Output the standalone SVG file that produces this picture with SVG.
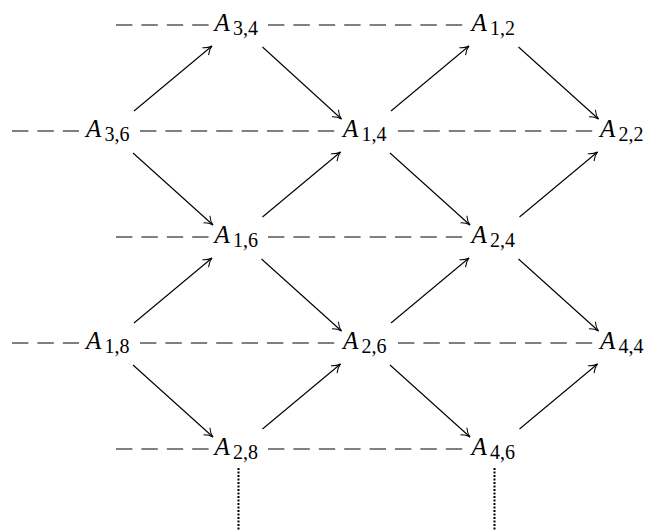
<svg xmlns="http://www.w3.org/2000/svg" width="647" height="531" viewBox="0 0 647 531">
  <style>
    .dash { stroke: #000; stroke-width: 1; stroke-dasharray: 16.4 9; fill: none; }
    .arr { stroke: #000; stroke-width: 1.1; fill: none; marker-end: url(#to); }
    .dot { stroke: #000; stroke-width: 2; stroke-dasharray: 2 1.5; fill: none; }
    text { font-family: "Liberation Serif", "Times New Roman", serif; fill: #000; }
    .big { font-size: 25px; font-style: italic; }
    .sub { font-size: 20px; font-style: normal; }
  </style>
  <defs>
    <marker id="to" markerUnits="userSpaceOnUse" markerWidth="14" markerHeight="14" viewBox="-10 -7 14 14" refX="0" refY="0" orient="auto" overflow="visible">
      <path d="M-8.5,-4.8 C-5.5,-1.8 -2.2,-0.5 0,0 C-2.2,0.5 -5.5,1.8 -8.5,4.8" stroke="#000" stroke-width="1" fill="none"/>
    </marker>
  </defs>

  <!-- dashed rows -->
  <g id="rows">
    <line class="dash" x1="116" y1="25" x2="209" y2="25"/>
    <line class="dash" x1="268" y1="25" x2="463" y2="25"/>
    <line class="dash" x1="12" y1="131" x2="79" y2="131"/>
    <line class="dash" x1="140" y1="131" x2="335" y2="131"/>
    <line class="dash" x1="398" y1="131" x2="593" y2="131"/>
    <line class="dash" x1="116" y1="237" x2="209" y2="237"/>
    <line class="dash" x1="268" y1="237" x2="463" y2="237"/>
    <line class="dash" x1="12" y1="343" x2="79" y2="343"/>
    <line class="dash" x1="140" y1="343" x2="335" y2="343"/>
    <line class="dash" x1="398" y1="343" x2="593" y2="343"/>
    <line class="dash" x1="116" y1="449" x2="209" y2="449"/>
    <line class="dash" x1="268" y1="449" x2="463" y2="449"/>
  </g>

  <!-- arrows between nodes -->
  <g id="connectors">
    <!-- from A3,6 -->
    <line class="arr" x1="134" y1="111" x2="212" y2="46"/>
    <line class="arr" x1="133" y1="153" x2="213" y2="225"/>
    <!-- from A3,4 -->
    <line class="arr" x1="262.5" y1="47" x2="341.5" y2="119"/>
    <!-- from A1,6 -->
    <line class="arr" x1="262.5" y1="217" x2="340.5" y2="152"/>
    <line class="arr" x1="261.5" y1="259" x2="341.5" y2="331"/>
    <!-- from A1,8 -->
    <line class="arr" x1="134" y1="323" x2="212" y2="258"/>
    <line class="arr" x1="133" y1="365" x2="213" y2="437"/>
    <!-- from A2,8 -->
    <line class="arr" x1="262.5" y1="429" x2="340.5" y2="364"/>
    <!-- from A1,4 -->
    <line class="arr" x1="391" y1="111" x2="469" y2="46"/>
    <line class="arr" x1="390" y1="153" x2="470" y2="225"/>
    <!-- from A1,2 -->
    <line class="arr" x1="518.5" y1="47" x2="598.5" y2="119"/>
    <!-- from A2,6 -->
    <line class="arr" x1="391" y1="323" x2="469" y2="258"/>
    <line class="arr" x1="390" y1="365" x2="470" y2="437"/>
    <!-- from A2,4 -->
    <line class="arr" x1="519.5" y1="217" x2="597.5" y2="152"/>
    <line class="arr" x1="518.5" y1="259" x2="598.5" y2="331"/>
    <!-- from A4,6 -->
    <line class="arr" x1="519.5" y1="429" x2="597.5" y2="364"/>
    <!-- dotted continuations -->
    <line class="dot" x1="238.5" y1="468" x2="238.5" y2="531"/>
    <line class="dot" x1="494.5" y1="468" x2="494.5" y2="531"/>
  </g>

  <!-- nodes -->
  <g id="n34"><text class="big" x="214.5" y="30.5">A</text><text class="sub" x="233" y="34.5">3,4</text></g>
  <g id="n12"><text class="big" x="471.5" y="30.5">A</text><text class="sub" x="490" y="34.5">1,2</text></g>
  <g id="n36"><text class="big" x="86" y="136.5">A</text><text class="sub" x="104.5" y="140.5">3,6</text></g>
  <g id="n14"><text class="big" x="343" y="136.5">A</text><text class="sub" x="361.5" y="140.5">1,4</text></g>
  <g id="n22"><text class="big" x="600" y="136.5">A</text><text class="sub" x="618.5" y="140.5">2,2</text></g>
  <g id="n16"><text class="big" x="214.5" y="242.5">A</text><text class="sub" x="233" y="246.5">1,6</text></g>
  <g id="n24"><text class="big" x="471.5" y="242.5">A</text><text class="sub" x="490" y="246.5">2,4</text></g>
  <g id="n18"><text class="big" x="86" y="348.5">A</text><text class="sub" x="104.5" y="352.5">1,8</text></g>
  <g id="n26"><text class="big" x="343" y="348.5">A</text><text class="sub" x="361.5" y="352.5">2,6</text></g>
  <g id="n44"><text class="big" x="600" y="348.5">A</text><text class="sub" x="618.5" y="352.5">4,4</text></g>
  <g id="n28"><text class="big" x="214.5" y="454.5">A</text><text class="sub" x="233" y="458.5">2,8</text></g>
  <g id="n46"><text class="big" x="471.5" y="454.5">A</text><text class="sub" x="490" y="458.5">4,6</text></g>
</svg>
